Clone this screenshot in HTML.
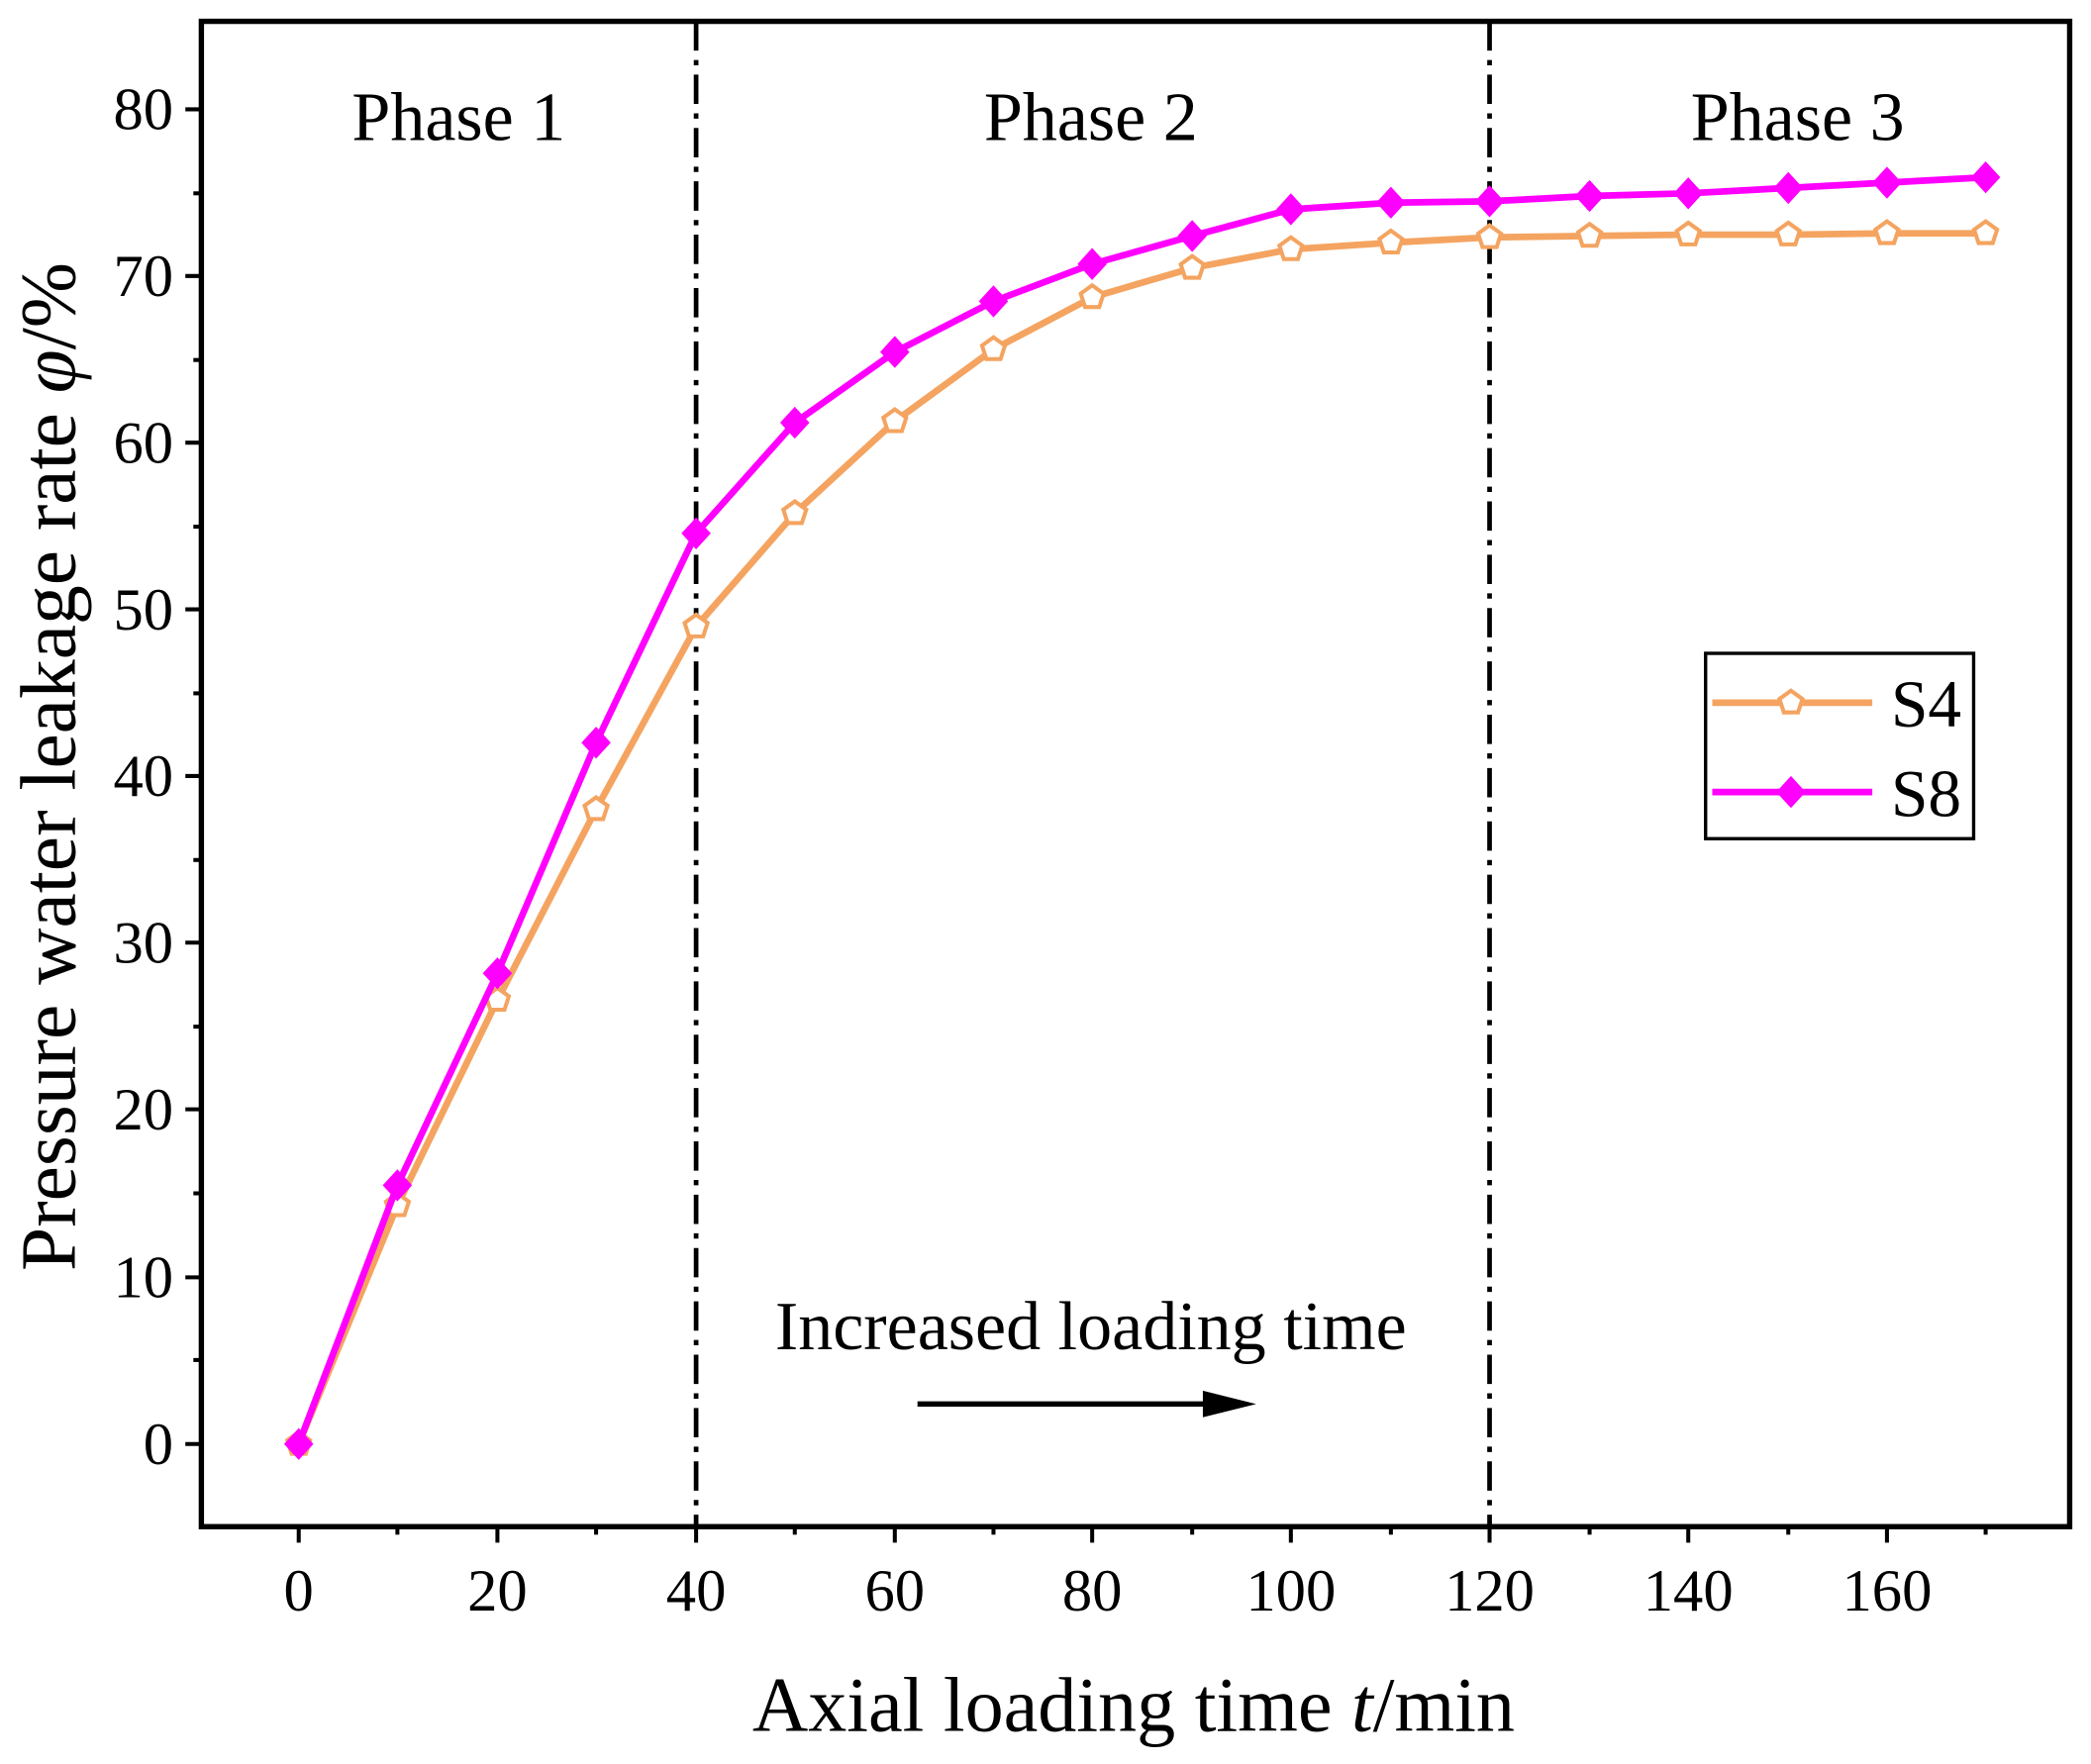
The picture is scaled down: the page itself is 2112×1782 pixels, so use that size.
<!DOCTYPE html>
<html><head><style>html,body{margin:0;padding:0;background:#fff}svg{display:block}</style></head>
<body>
<svg width="2112" height="1782" viewBox="0 0 1568 1323" xmlns="http://www.w3.org/2000/svg" font-family="Liberation Serif, serif">
<defs>
<polygon id="p" points="0,-9 8.6,-2.8 5.3,7.3 -5.3,7.3 -8.6,-2.8"/>
<polygon id="d" points="0,-12 11,0 0,12 -11,0"/>
</defs>
<rect width="1568" height="1323" fill="#fff"/>
<rect x="151" y="16" width="1401" height="1129" fill="none" stroke="#000" stroke-width="4"/>
<g stroke="#000" stroke-width="3">
<line x1="139" y1="1083" x2="151" y2="1083"/><line x1="139" y1="958" x2="151" y2="958"/><line x1="139" y1="832" x2="151" y2="832"/><line x1="139" y1="707" x2="151" y2="707"/><line x1="139" y1="582" x2="151" y2="582"/><line x1="139" y1="457" x2="151" y2="457"/><line x1="139" y1="332" x2="151" y2="332"/><line x1="139" y1="207" x2="151" y2="207"/><line x1="139" y1="82" x2="151" y2="82"/>
<line x1="145" y1="1020" x2="151" y2="1020"/><line x1="145" y1="895" x2="151" y2="895"/><line x1="145" y1="770" x2="151" y2="770"/><line x1="145" y1="645" x2="151" y2="645"/><line x1="145" y1="520" x2="151" y2="520"/><line x1="145" y1="395" x2="151" y2="395"/><line x1="145" y1="270" x2="151" y2="270"/><line x1="145" y1="145" x2="151" y2="145"/>
</g>
<g stroke="#000" stroke-width="3">
<line x1="224" y1="1145" x2="224" y2="1157"/><line x1="373" y1="1145" x2="373" y2="1157"/><line x1="522" y1="1145" x2="522" y2="1157"/><line x1="671" y1="1145" x2="671" y2="1157"/><line x1="819" y1="1145" x2="819" y2="1157"/><line x1="968" y1="1145" x2="968" y2="1157"/><line x1="1117" y1="1145" x2="1117" y2="1157"/><line x1="1266" y1="1145" x2="1266" y2="1157"/><line x1="1415" y1="1145" x2="1415" y2="1157"/>
<line x1="298" y1="1145" x2="298" y2="1151"/><line x1="447" y1="1145" x2="447" y2="1151"/><line x1="596" y1="1145" x2="596" y2="1151"/><line x1="745" y1="1145" x2="745" y2="1151"/><line x1="894" y1="1145" x2="894" y2="1151"/><line x1="1043" y1="1145" x2="1043" y2="1151"/><line x1="1192" y1="1145" x2="1192" y2="1151"/><line x1="1341" y1="1145" x2="1341" y2="1151"/><line x1="1489" y1="1145" x2="1489" y2="1151"/>
</g>
<g font-size="45" text-anchor="end">
<text x="130" y="1098">0</text><text x="130" y="973">10</text><text x="130" y="847">20</text><text x="130" y="722">30</text><text x="130" y="597">40</text><text x="130" y="472">50</text><text x="130" y="347">60</text><text x="130" y="222">70</text><text x="130" y="97">80</text>
</g>
<g font-size="45" text-anchor="middle">
<text x="224" y="1208">0</text><text x="373" y="1208">20</text><text x="522" y="1208">40</text><text x="671" y="1208">60</text><text x="819" y="1208">80</text><text x="968" y="1208">100</text><text x="1117" y="1208">120</text><text x="1266" y="1208">140</text><text x="1415" y="1208">160</text>
</g>
<text x="850" y="1298" font-size="58" text-anchor="middle">Axial loading time <tspan font-style="italic">t</tspan>/min</text>
<text transform="translate(56,575) rotate(-90)" font-size="59" text-anchor="middle">Pressure water leakage rate <tspan font-style="italic">φ</tspan>/%</text>
<g stroke="#000" stroke-width="3.5" stroke-dasharray="22,7,4,7">
<line x1="522" y1="16" x2="522" y2="1145"/><line x1="1117" y1="16" x2="1117" y2="1145"/>
</g>
<g font-size="52" text-anchor="middle">
<text x="344" y="105">Phase 1</text><text x="818" y="105">Phase 2</text><text x="1348" y="105">Phase 3</text>
<text x="818" y="1012">Increased loading time</text>
</g>
<line x1="688" y1="1053" x2="905" y2="1053" stroke="#000" stroke-width="4"/>
<polygon points="942,1053 902,1043 902,1063" fill="#000"/>
<polyline fill="none" stroke="#F4A460" stroke-width="5" points="224,1083 298,904 373,750 447,607 522,470 596,385 671,316 745,262 819,223 894,201 968,187 1043,182 1117,178 1192,177 1266,176 1341,176 1415,175 1489,175"/>
<g fill="#fff" stroke="#F4A460" stroke-width="3">
<use href="#p" x="224" y="1083"/><use href="#p" x="298" y="904"/><use href="#p" x="373" y="750"/><use href="#p" x="447" y="607"/><use href="#p" x="522" y="470"/><use href="#p" x="596" y="385"/><use href="#p" x="671" y="316"/><use href="#p" x="745" y="262"/><use href="#p" x="819" y="223"/><use href="#p" x="894" y="201"/><use href="#p" x="968" y="187"/><use href="#p" x="1043" y="182"/><use href="#p" x="1117" y="178"/><use href="#p" x="1192" y="177"/><use href="#p" x="1266" y="176"/><use href="#p" x="1341" y="176"/><use href="#p" x="1415" y="175"/><use href="#p" x="1489" y="175"/>
</g>
<polyline fill="none" stroke="#FF00FF" stroke-width="5" points="224,1083 298,889 373,730 447,557 522,400 596,317 671,264 745,226 819,198 894,177 968,157 1043,152 1117,151 1192,147 1266,145 1341,141 1415,137 1489,133"/>
<g fill="#FF00FF">
<use href="#d" x="224" y="1083"/><use href="#d" x="298" y="889"/><use href="#d" x="373" y="730"/><use href="#d" x="447" y="557"/><use href="#d" x="522" y="400"/><use href="#d" x="596" y="317"/><use href="#d" x="671" y="264"/><use href="#d" x="745" y="226"/><use href="#d" x="819" y="198"/><use href="#d" x="894" y="177"/><use href="#d" x="968" y="157"/><use href="#d" x="1043" y="152"/><use href="#d" x="1117" y="151"/><use href="#d" x="1192" y="147"/><use href="#d" x="1266" y="145"/><use href="#d" x="1341" y="141"/><use href="#d" x="1415" y="137"/><use href="#d" x="1489" y="133"/>
</g>
<rect x="1279" y="490" width="201" height="139" fill="#fff" stroke="#000" stroke-width="2.5"/>
<line x1="1284" y1="527" x2="1404" y2="527" stroke="#F4A460" stroke-width="5"/>
<use href="#p" x="1343" y="527" fill="#fff" stroke="#F4A460" stroke-width="3"/>
<line x1="1284" y1="594" x2="1404" y2="594" stroke="#FF00FF" stroke-width="5"/>
<use href="#d" x="1343" y="594" fill="#FF00FF"/>
<text x="1418" y="545" font-size="50">S4</text>
<text x="1418" y="612" font-size="50">S8</text>
</svg>
</body></html>
